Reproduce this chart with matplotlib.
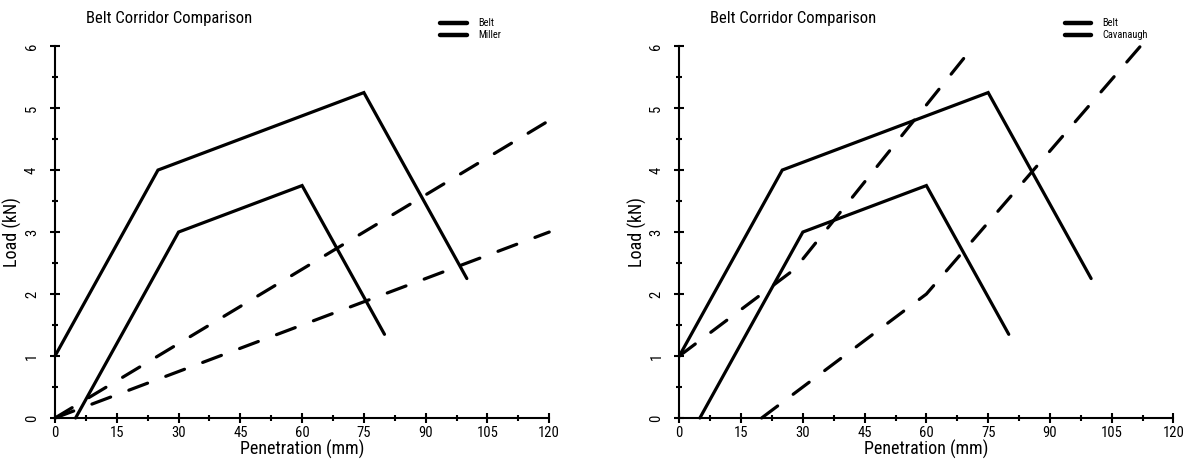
import matplotlib
matplotlib.use('Agg')
import matplotlib.pyplot as plt
from matplotlib.lines import Line2D
from matplotlib.ticker import MultipleLocator

# condensed sans, like the R narrow Helvetica of the original
plt.rcParams['font.family'] = ['Liberation Sans Narrow', 'Roboto Condensed',
                               'Archivo Narrow', 'DejaVu Sans']
plt.rcParams['lines.scale_dashes'] = False

# Belt corridor (solid), shared by both panels
belt_upper_x = [0, 25, 75, 100]
belt_upper_y = [1, 4, 5.25, 2.25]
belt_lower_x = [5, 30, 60, 80]
belt_lower_y = [0, 3, 3.75, 1.35]

# Miller corridor (dashed)
miller_upper_x = [0, 120]
miller_upper_y = [0, 4.8]
miller_lower_x = [0, 120]
miller_lower_y = [0, 3.0]

# Cavanaugh corridor (dashed)
cav_upper_x = [0, 28, 70.5]
cav_upper_y = [1, 2.4, 5.92]
cav_lower_x = [20, 60, 112]
cav_lower_y = [0, 2, 6]

panels = [
    ('Miller', (miller_upper_x, miller_upper_y), (miller_lower_x, miller_lower_y)),
    ('Cavanaugh', (cav_upper_x, cav_upper_y), (cav_lower_x, cav_lower_y)),
]

fig = plt.figure(figsize=(12.01, 4.61), dpi=100)
lefts = [0.0458, 0.5656]
width = 0.4115
bottom, top = 0.0933, 0.900

lw = 2.3
dash = (14.4, 14.0)

for left, (name, up, lo) in zip(lefts, panels):
    ax = fig.add_axes([left, bottom, width, top - bottom])
    ax.plot(belt_upper_x, belt_upper_y, c='k', lw=lw, clip_on=False,
            solid_capstyle='round', solid_joinstyle='miter')
    ax.plot(belt_lower_x, belt_lower_y, c='k', lw=lw, clip_on=False,
            solid_capstyle='round', solid_joinstyle='miter')
    for xs, ys in (up, lo):
        ax.plot(xs, ys, c='k', lw=lw, clip_on=False, dashes=dash,
                dash_capstyle='round')

    ax.set_xlim(0, 120)
    ax.set_ylim(0, 6)
    ax.xaxis.set_major_locator(MultipleLocator(15))
    ax.xaxis.set_minor_locator(MultipleLocator(7.5))
    ax.yaxis.set_major_locator(MultipleLocator(1))
    ax.yaxis.set_minor_locator(MultipleLocator(0.5))
    for s in ('top', 'right'):
        ax.spines[s].set_visible(False)
    for s in ('left', 'bottom'):
        ax.spines[s].set_linewidth(1.5)
    ax.tick_params(which='major', direction='inout', length=7, width=1.5,
                   labelsize=10.5, pad=2)
    ax.tick_params(which='minor', direction='inout', length=4, width=1.5)
    ax.tick_params(axis='y', which='major', pad=8)
    plt.setp(ax.get_yticklabels(), rotation=90, va='center')
    ax.set_xlabel('Penetration (mm)', fontsize=13, labelpad=0)
    ax.set_ylabel('Load (kN)', fontsize=13, labelpad=2)
    ax.patch.set_visible(False)

    ax.text(0.062, 1.075, 'Belt Corridor Comparison', transform=ax.transAxes,
            fontsize=12, ha='left', va='center')

    handles = [Line2D([], [], c='k', lw=3.2, solid_capstyle='round'),
               Line2D([], [], c='k', lw=3.2, solid_capstyle='round')]
    ax.legend(handles, ['Belt', name], loc='upper left',
              bbox_to_anchor=(0.78, 1.075), frameon=False, fontsize=7.5,
              handlelength=2.5, handletextpad=1.1, labelspacing=0.2,
              borderpad=0, borderaxespad=0)

fig.savefig('out.png', dpi=100)
